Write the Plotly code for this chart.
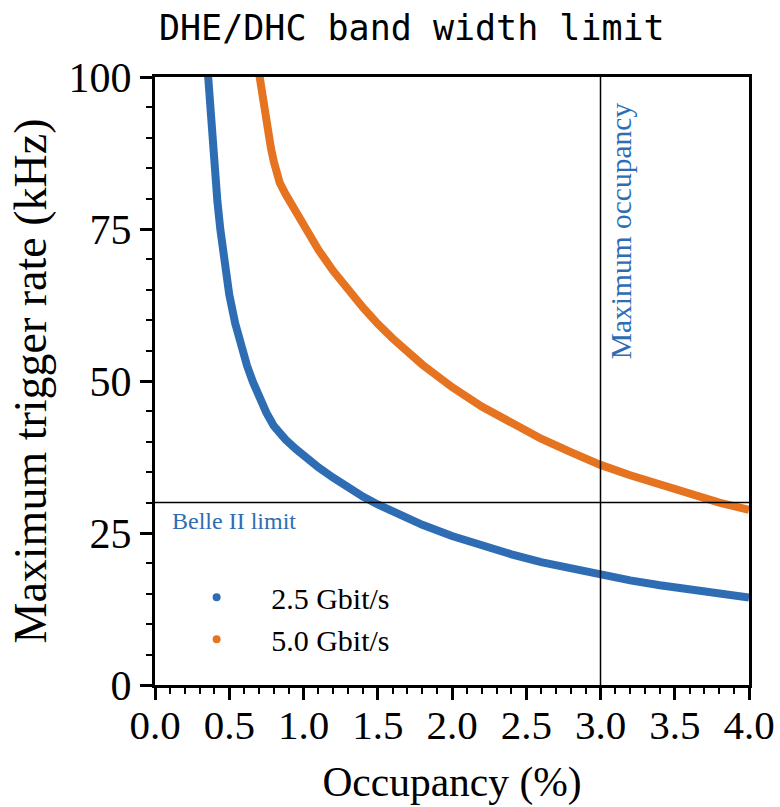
import plotly.graph_objects as go

# Data
blue_x = [0.35, 0.36, 0.38, 0.40, 0.42, 0.44, 0.47, 0.50, 0.54, 0.58, 0.62, 0.66, 0.70,
          0.75, 0.80, 0.84, 0.88, 0.95, 1.0, 1.1, 1.2, 1.3, 1.4, 1.5, 1.6, 1.8, 2.0,
          2.2, 2.4, 2.6, 2.8, 3.0, 3.2, 3.4, 3.6, 3.8, 4.0]
blue_y = [102.7, 98.8, 91.5, 85.0, 79.6, 74.9, 69.0, 64.2, 59.5, 55.6, 52.5, 49.8, 47.4,
          44.8, 42.6, 41.3, 40.35, 38.8, 37.7, 35.8, 34.1, 32.5, 31.0, 29.7, 28.5, 26.35, 24.5,
          22.9, 21.5, 20.2, 19.1, 18.1, 17.2, 16.4, 15.7, 15.0, 14.4]

orange_x = [0.69, 0.70, 0.72, 0.74, 0.76, 0.78, 0.80, 0.82, 0.84, 0.88, 0.95, 1.0, 1.1,
            1.2, 1.3, 1.4, 1.5, 1.6, 1.8, 2.0, 2.2, 2.4, 2.6, 2.8, 3.0, 3.2, 3.4, 3.6,
            3.8, 4.0]
orange_y = [102.3, 100.5, 97.0, 93.8, 91.0, 88.4, 86.1, 84.2, 82.6, 80.7, 77.6, 75.4, 71.6,
            68.1, 64.9, 62.1, 59.4, 57.0, 52.7, 49.0, 45.8, 43.0, 40.5, 38.3, 36.2, 34.5,
            32.9, 31.4, 30.0, 28.8]

series_names = ["2.5 Gbit/s", "5.0 Gbit/s"]
belle_limit = 30
max_occupancy = 3.0

x_ticks = [0.0, 0.5, 1.0, 1.5, 2.0, 2.5, 3.0, 3.5, 4.0]
y_ticks = [0, 25, 50, 75, 100]

BLUE = "#2e6db4"
ORANGE = "#e5731f"
SERIF = "Liberation Serif, Times New Roman, serif"
MONO = "DejaVu Sans Mono, monospace"

fig = go.Figure()
fig.add_trace(go.Scatter(x=blue_x, y=blue_y, mode="lines",
                         line=dict(color=BLUE, width=8), showlegend=False))
fig.add_trace(go.Scatter(x=orange_x, y=orange_y, mode="lines",
                         line=dict(color=ORANGE, width=8), showlegend=False))
# legend entries as dots
fig.add_trace(go.Scatter(x=[None], y=[None], mode="markers", name=series_names[0],
                         marker=dict(color=BLUE, size=8)))
fig.add_trace(go.Scatter(x=[None], y=[None], mode="markers", name=series_names[1],
                         marker=dict(color=ORANGE, size=8)))

fig.add_hline(y=belle_limit, line=dict(color="black", width=1.5))
fig.add_vline(x=max_occupancy, line=dict(color="black", width=1.5))

fig.add_annotation(x=0.12, y=belle_limit, text="Belle II limit", showarrow=False,
                   xanchor="left", yanchor="top", yshift=-3, xshift=-3,
                   font=dict(family=SERIF, size=24, color=BLUE))
fig.add_annotation(x=max_occupancy, y=96, text="Maximum occupancy", showarrow=False,
                   textangle=-90, xanchor="left", yanchor="top", xshift=2, yshift=1,
                   font=dict(family=SERIF, size=29.5, color=BLUE))

fig.update_layout(
    width=780, height=807,
    margin=dict(l=155, r=31, t=77, b=122, autoexpand=False),
    paper_bgcolor="white", plot_bgcolor="white",
    title=dict(text="DHE/DHC band width limit", x=0.528, xanchor="center",
               y=0.965, yanchor="middle",
               font=dict(family=MONO, size=35, color="black")),
    legend=dict(x=0.012, y=0.187, xanchor="left", yanchor="top",
                bgcolor="rgba(0,0,0,0)", itemwidth=99,
                font=dict(family=SERIF, size=30, color="black")),
    font=dict(family=SERIF, color="black"),
)
fig.update_xaxes(range=[0, 4], tickvals=x_ticks, ticktext=[f"{v:.1f}" for v in x_ticks],
                 automargin=False, ticklabelstandoff=-10,
                 showgrid=False, zeroline=False, showline=True, linecolor="black",
                 linewidth=3, mirror=True, ticks="outside", ticklen=12, tickwidth=2.5,
                 tickcolor="black", tickfont=dict(family=SERIF, size=41),
                 minor=dict(dtick=0.1, tick0=0, ticks="outside", ticklen=6, tickwidth=2,
                            tickcolor="black"),
                 title=dict(text="Occupancy (%)", font=dict(family=SERIF, size=41.5), standoff=20))
fig.update_yaxes(range=[0, 100], tickvals=y_ticks,
                 automargin=False,
                 showgrid=False, zeroline=False, showline=True, linecolor="black",
                 linewidth=3, mirror=True, ticks="outside", ticklen=12, tickwidth=2.5,
                 tickcolor="black", tickfont=dict(family=SERIF, size=42),
                 minor=dict(dtick=5, tick0=0, ticks="outside", ticklen=6, tickwidth=2,
                            tickcolor="black"),
                 title=dict(text="Maximum trigger rate (kHz)", font=dict(family=SERIF, size=46),
                            standoff=8))

fig.write_html("out.html")
